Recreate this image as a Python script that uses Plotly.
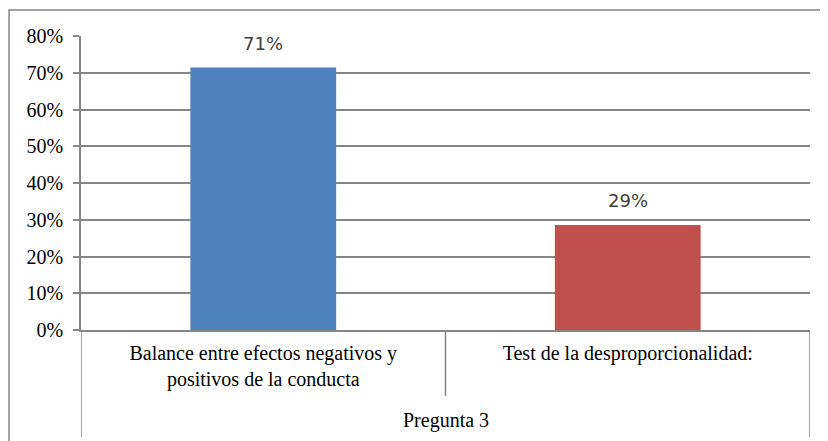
import plotly.graph_objects as go

categories = ["Balance entre efectos negativos y<br>positivos de la conducta",
              "Test de la desproporcionalidad:"]
values = [0.714, 0.286]
value_labels = ["71%", "29%"]
group_label = "Pregunta 3"
bar_colors = ["#4F81BD", "#C0504D"]
y_ticks = [0, 0.1, 0.2, 0.3, 0.4, 0.5, 0.6, 0.7, 0.8]

# page body adds an 8px offset
W, H = 820, 433
ml, mr, mt, mb = 73, 18, 28, 111
pw, ph = W - ml - mr, H - mt - mb

fig = go.Figure()
fig.add_trace(go.Bar(
    x=[0, 1], y=values, marker=dict(color=bar_colors, line=dict(width=0)),
    width=0.4, hoverinfo="skip"))

for i, (v, lab) in enumerate(zip(values, value_labels)):
    fig.add_annotation(x=i, y=v, text=lab, showarrow=False, yanchor="middle",
                       yshift=24, font=dict(family="DejaVu Sans", size=18, color="#404040"))

fig.add_annotation(x=0.5, y=0, xref="x", yref="y", text=group_label, showarrow=False,
                   yanchor="middle", yshift=-90,
                   font=dict(family="Liberation Serif", size=20, color="#000000"))

# category dividers
line_c = "#868686"
for xv, ext in [(-0.5, 107), (0.5, 66), (1.5, 107)]:
    fig.add_shape(type="line", xref="x", yref="paper", x0=xv, x1=xv, y0=0, y1=-ext / ph,
                  line=dict(color=line_c, width=1.5))

# outer chart border (left and top visible)
fig.add_shape(type="rect", xref="paper", yref="paper",
              x0=(1 - ml) / pw, x1=(840 - ml) / pw,
              y0=-(450 - (H - mb)) / ph, y1=((H - mb) - 2) / ph,
              line=dict(color="#868686", width=1.5), fillcolor="rgba(0,0,0,0)", layer="below")

fig.update_layout(
    width=W, height=H, margin=dict(l=ml, r=mr, t=mt, b=mb, autoexpand=False),
    paper_bgcolor="white", plot_bgcolor="white", showlegend=False,
    xaxis=dict(range=[-0.5, 1.5], tickvals=[0, 1], ticktext=categories,
               showgrid=False, zeroline=False, showline=True, linecolor=line_c, linewidth=1.5,
               ticks="", ticklabelstandoff=4,
               tickfont=dict(family="Liberation Serif", size=20, color="#000000"),
               automargin=False, fixedrange=True),
    yaxis=dict(range=[0, 0.8], tickvals=y_ticks, tickformat=".0%",
               showgrid=True, gridcolor=line_c, gridwidth=1.5, zeroline=False,
               showline=True, linecolor=line_c, linewidth=1.5,
               ticks="outside", ticklen=6, tickcolor=line_c, tickwidth=1.5,
               ticklabelstandoff=6, automargin=False,
               tickfont=dict(family="Liberation Serif", size=20, color="#000000"),
               fixedrange=True),
)

fig.write_html("out.html")
